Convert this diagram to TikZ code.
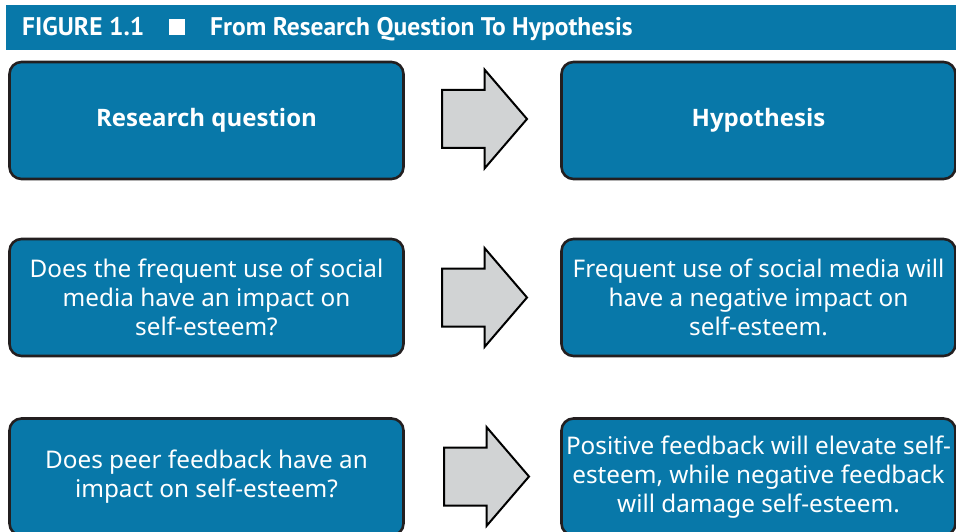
\documentclass[tikz,border=0pt]{standalone}
\usepackage{fontspec}
\setmainfont{Noto Sans}
\newfontfamily\boldsans{Open Sans}
\newfontfamily\headfont{PT Sans}
\usetikzlibrary{calc}
\definecolor{figblue}{HTML}{0878A9}
\definecolor{edgedark}{HTML}{231F20}
\definecolor{arrowgray}{HTML}{D1D3D4}
\tikzset{
  stagebox/.style={draw=edgedark, fill=figblue, line width=2.6pt, rounded corners=12pt,
    minimum width=394pt, minimum height=117pt, align=center, text=white,
    font=\fontsize{24.3}{29}\selectfont, inner sep=0pt},
  stagehead/.style={stagebox, font=\boldsans\bfseries\fontsize{24}{29}\selectfont},
  arrowshape/.style={draw=black, fill=arrowgray, line width=2pt, line join=miter},
  bigarrow/.pic={
    \draw[arrowshape] (-42.5,-29) -- (0,-29) -- (0,-49.5) -- (42.5,0)
      -- (0,49.5) -- (0,29) -- (-42.5,29) -- cycle;
  }
}
\begin{document}
\begin{tikzpicture}[x=1pt,y=-1pt]
\useasboundingbox (0,0) rectangle (956,532);
\clip (0,0) rectangle (956,532);

% title bar
\fill[figblue] (6,5) rectangle (956,50);
\node[anchor=base west, inner sep=0pt, text=white,
  font=\headfont\bfseries\fontsize{25.5}{25.5}\selectfont] (figlabel) at (22,36) {FIGURE 1.1};
\fill[white] (169,19) rectangle (185,35);
\node[anchor=base west, inner sep=0pt, text=white,
  font=\headfont\bfseries\fontsize{25.5}{25.5}\selectfont] (figtitle) at (210,36)
  {From Research Question To Hypothesis};

% column headings
\node[stagehead] (rq) at (206.5,120.5) {Research question};
\node[stagehead] (hy) at (758.5,120.5) {Hypothesis};

% first example
\node[stagebox] (rq1) at (206.5,297.5) {Does the frequent use of social\\media have an impact on\\self-esteem?};
\node[stagebox] (hy1) at (758.5,297.5) {Frequent use of social media will\\have a negative impact on\\self-esteem.};

% second example
\node[stagebox] (rq2) at (206.5,477) {Does peer feedback have an\\impact on self-esteem?};
\node[stagebox] (hy2) at (758.5,477) {Positive feedback will elevate self-\\esteem, while negative feedback\\will damage self-esteem.};

% block arrows between the columns
\pic at ($(rq.east)!0.5!(hy.west)+(2,-1.5)$) {bigarrow};
\pic at ($(rq1.east)!0.5!(hy1.west)+(2,0)$) {bigarrow};
\pic at ($(rq2.east)!0.5!(hy2.west)+(4,-0.5)$) {bigarrow};
\end{tikzpicture}
\end{document}
